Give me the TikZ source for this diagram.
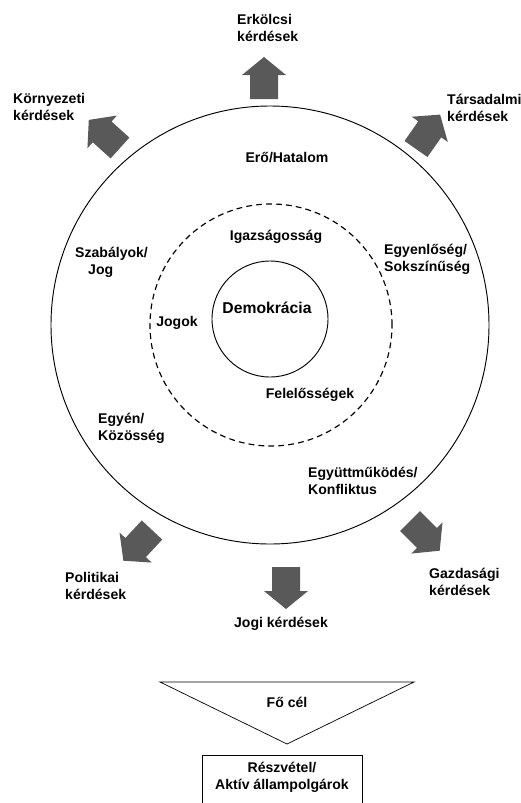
\documentclass[tikz,border=0pt]{standalone}
\usepackage{fontspec}
\setmainfont{Liberation Sans}
\definecolor{arrowgray}{HTML}{595959}
\tikzset{
  lbl/.style={font=\bfseries\fontsize{12}{14.5}\selectfont, inner sep=0pt, align=left},
  ring/.style={circle, draw, line width=0.8pt, inner sep=0pt},
}

\begin{document}
\begin{tikzpicture}[x=0.03cm, y=-0.03cm]
		\useasboundingbox (0,0) rectangle (520,803);
		\node[ring, minimum size=13.14cm] (outer) at (270,325) {};
		\node[ring, line width=1pt, dash pattern=on 5pt off 3.5pt, minimum size=7.26cm] (middle) at (271,325) {};
		\node[ring, minimum size=3.48cm] (inner) at (270,319) {};

		\fill[arrowgray, shift={(264,99)}, rotate=90] (0,-14) -- (24,-14) -- (24,-22) -- (42,0) -- (24,22) -- (24,14) -- (0,14) -- cycle;
		\fill[arrowgray, shift={(120,148)}, rotate=138] (0,-14) -- (24,-14) -- (24,-22) -- (42,0) -- (24,22) -- (24,14) -- (0,14) -- cycle;
		\fill[arrowgray, shift={(416,149)}, rotate=55] (0,-14) -- (24,-14) -- (24,-22) -- (42,0) -- (24,22) -- (24,14) -- (0,14) -- cycle;
		\fill[arrowgray, shift={(152,530)}, rotate=227] (0,-14) -- (24,-14) -- (24,-22) -- (42,0) -- (24,22) -- (24,14) -- (0,14) -- cycle;
		\fill[arrowgray, shift={(410,521)}, rotate=315] (0,-14) -- (24,-14) -- (24,-22) -- (42,0) -- (24,22) -- (24,14) -- (0,14) -- cycle;
		\fill[arrowgray, shift={(286,567)}, rotate=270] (0,-14) -- (24,-14) -- (24,-22) -- (42,0) -- (24,22) -- (24,14) -- (0,14) -- cycle;

		\node[lbl, anchor=west] (moral) at (237,28) {Erkölcsi\\kérdések};
		\node[lbl, anchor=west] (env) at (13,107) {Környezeti\\kérdések};
		\node[lbl, anchor=west] (social) at (447,108) {Társadalmi\\kérdések};
		\node[lbl] (power) at (287,158) {Erő/Hatalom};
		\node[lbl, anchor=west] (rules) at (75,262) {Szabályok/\\\hspace*{0.39cm}Jog};
		\node[lbl] (justice) at (276,237) {Igazságosság};
		\node[lbl, anchor=west] (equality) at (384,259) {Egyenlőség/\\Sokszínűség};
		\node[lbl, font=\bfseries\fontsize{13.4}{16}\selectfont] (demo) at (267,308) {Demokrácia};
		\node[lbl] (rights) at (177,323) {Jogok};
		\node[lbl] (resp) at (310,395) {Felelősségek};
		\node[lbl, anchor=west] (indiv) at (98,428) {Egyén/\\Közösség};
		\node[lbl, anchor=west] (coop) at (308,481) {Együttműködés/\\Konfliktus};
		\node[lbl, anchor=west] (politic) at (65,586) {Politikai\\kérdések};
		\node[lbl, anchor=west] (econ) at (429,582) {Gazdasági\\kérdések};
		\node[lbl] (legal) at (281,624) {Jogi kérdések};

		\coordinate (triL) at (160,682);
		\coordinate (triR) at (414,682);
		\coordinate (triTip) at (287,744);
		\draw[line width=0.6pt] (triL) -- (triR) -- (triTip) -- cycle;
		\node[lbl] (aim) at (287,702) {Fő cél};

		\draw[line width=0.8pt] (202,755) rectangle (362,812);
		\node[lbl, align=center] (goal) at (282,777) {Részvétel/\\Aktív állampolgárok};
\end{tikzpicture}
\end{document}
